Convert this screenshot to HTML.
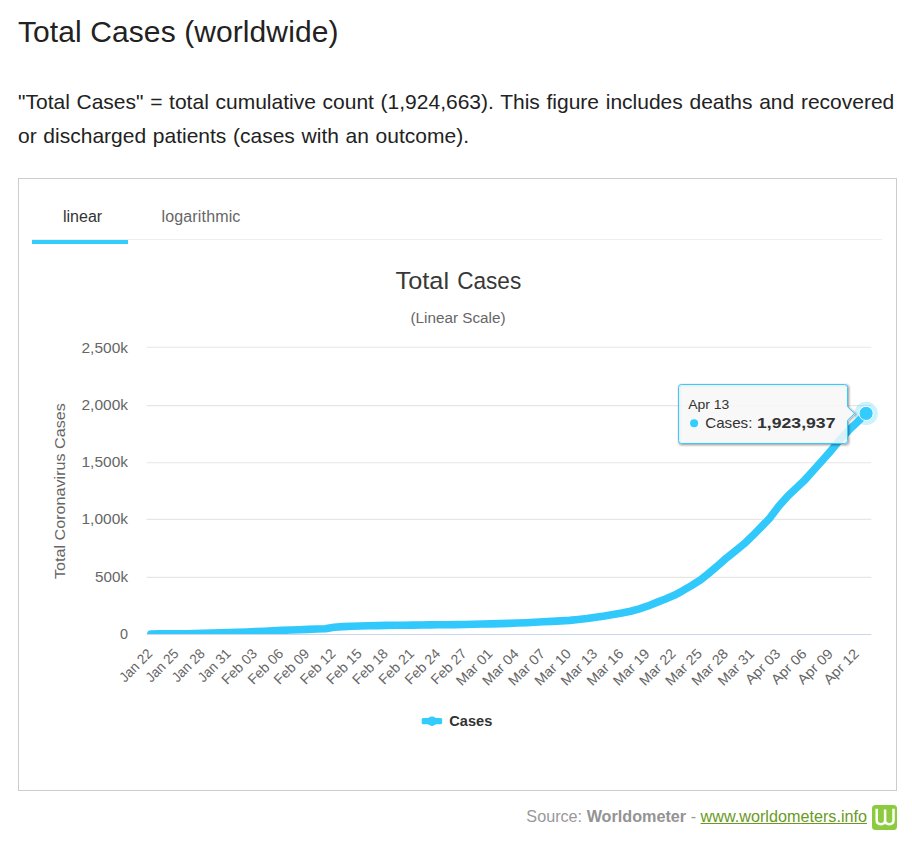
<!DOCTYPE html>
<html><head><meta charset="utf-8"><title>Total Cases</title>
<style>
html,body{margin:0;padding:0;background:#fff;}
body{width:912px;height:843px;position:relative;overflow:hidden;font-family:"Liberation Sans",sans-serif;color:#222;}
h3{position:absolute;left:18px;top:13px;margin:0;font-size:30px;font-weight:normal;line-height:38px;color:#222;white-space:nowrap;letter-spacing:0.09px;}
p.desc{position:absolute;left:18px;top:85px;margin:0;font-size:21px;line-height:33.6px;color:#222;white-space:nowrap;word-spacing:0.85px;}
.box{position:absolute;left:18px;top:178px;width:877px;height:611px;border:1px solid #ccc;background:#fff;}
.tabs{position:absolute;left:13px;top:0;width:850px;height:60px;border-bottom:1px solid #eee;}
.tab{position:absolute;top:29px;font-size:16px;line-height:18px;color:#666;}
.tab.act{color:#333;}
.ul{position:absolute;left:0;top:61px;width:96px;height:4px;background:#33ccff;}
.src{position:absolute;right:45px;top:806px;font-size:16.2px;line-height:20px;color:#999;white-space:nowrap;}
.src b{color:#939393;}
.src a{color:#6a9a1f;text-decoration:underline;}
svg text{font-family:"Liberation Sans",sans-serif;}
</style></head><body>
<h3>Total Cases (worldwide)</h3>
<p class="desc">"Total Cases" = total cumulative count (1,924,663). This figure includes deaths and recovered<br>or discharged patients (cases with an outcome).</p>
<div class="box">
 <div class="tabs">
  <span class="tab act" style="left:31px">linear</span>
  <span class="tab" style="left:129.5px;letter-spacing:0.15px">logarithmic</span>
  <div class="ul"></div>
 </div>
</div>
<svg width="912" height="843" style="position:absolute;left:0;top:0">
 <defs>
  <filter id="sh" x="-10%" y="-10%" width="130%" height="140%"><feGaussianBlur in="SourceAlpha" stdDeviation="1.5"/><feOffset dx="1" dy="1.5"/><feComponentTransfer><feFuncA type="linear" slope="0.35"/></feComponentTransfer><feMerge><feMergeNode/><feMergeNode in="SourceGraphic"/></feMerge></filter>
  <clipPath id="plot"><rect x="146" y="340" width="726" height="294"/></clipPath>
 </defs>
 <text x="395.6" y="288.6" font-size="24.5" text-anchor="start" fill="#383838" textLength="53.5" lengthAdjust="spacingAndGlyphs">Total</text>
 <text x="457.2" y="288.6" font-size="24.5" text-anchor="start" fill="#383838" textLength="64" lengthAdjust="spacingAndGlyphs">Cases</text>
 <text x="458" y="323.4" font-size="14" text-anchor="middle" fill="#666" textLength="95" lengthAdjust="spacingAndGlyphs">(Linear Scale)</text>
 <path d="M146.6 347.3 L871.3 347.3" stroke="#e6e6e6" stroke-width="1.1"/>
<path d="M146.6 405.6 L871.3 405.6" stroke="#e6e6e6" stroke-width="1.1"/>
<path d="M146.6 462.7 L871.3 462.7" stroke="#e6e6e6" stroke-width="1.1"/>
<path d="M146.6 519.4 L871.3 519.4" stroke="#e6e6e6" stroke-width="1.1"/>
<path d="M146.6 577.4 L871.3 577.4" stroke="#e6e6e6" stroke-width="1.1"/>
 <path d="M146.6 634.5 L871.3 634.5" stroke="#ccd6eb" stroke-width="1"/>
 <text x="128" y="352.6" font-size="14" text-anchor="end" fill="#666" textLength="46.5" lengthAdjust="spacingAndGlyphs">2,500k</text>
<text x="128" y="410.2" font-size="14" text-anchor="end" fill="#666" textLength="46.5" lengthAdjust="spacingAndGlyphs">2,000k</text>
<text x="128" y="467.3" font-size="14" text-anchor="end" fill="#666" textLength="46.5" lengthAdjust="spacingAndGlyphs">1,500k</text>
<text x="128" y="524.0" font-size="14" text-anchor="end" fill="#666" textLength="46.5" lengthAdjust="spacingAndGlyphs">1,000k</text>
<text x="128" y="582.0" font-size="14" text-anchor="end" fill="#666" textLength="33" lengthAdjust="spacingAndGlyphs">500k</text>
<text x="128" y="639.1" font-size="14" text-anchor="end" fill="#666" textLength="8" lengthAdjust="spacingAndGlyphs">0</text>
 <text x="65.4" y="491.1" transform="rotate(-90 65.4 491.1)" text-anchor="middle" font-size="15.5" fill="#666" textLength="176" lengthAdjust="spacingAndGlyphs">Total Coronavirus Cases</text>
 <g font-size="14" fill="#666">
 <text x="153.36" y="654.6" transform="rotate(-45 153.36 654.6)" text-anchor="end" textLength="40" lengthAdjust="spacingAndGlyphs">Jan 22</text>
<text x="179.53" y="654.6" transform="rotate(-45 179.53 654.6)" text-anchor="end" textLength="40" lengthAdjust="spacingAndGlyphs">Jan 25</text>
<text x="205.70" y="654.6" transform="rotate(-45 205.70 654.6)" text-anchor="end" textLength="40" lengthAdjust="spacingAndGlyphs">Jan 28</text>
<text x="231.87" y="654.6" transform="rotate(-45 231.87 654.6)" text-anchor="end" textLength="40" lengthAdjust="spacingAndGlyphs">Jan 31</text>
<text x="258.04" y="654.6" transform="rotate(-45 258.04 654.6)" text-anchor="end" textLength="43.5" lengthAdjust="spacingAndGlyphs">Feb 03</text>
<text x="284.20" y="654.6" transform="rotate(-45 284.20 654.6)" text-anchor="end" textLength="43.5" lengthAdjust="spacingAndGlyphs">Feb 06</text>
<text x="310.37" y="654.6" transform="rotate(-45 310.37 654.6)" text-anchor="end" textLength="43.5" lengthAdjust="spacingAndGlyphs">Feb 09</text>
<text x="336.54" y="654.6" transform="rotate(-45 336.54 654.6)" text-anchor="end" textLength="43.5" lengthAdjust="spacingAndGlyphs">Feb 12</text>
<text x="362.71" y="654.6" transform="rotate(-45 362.71 654.6)" text-anchor="end" textLength="43.5" lengthAdjust="spacingAndGlyphs">Feb 15</text>
<text x="388.88" y="654.6" transform="rotate(-45 388.88 654.6)" text-anchor="end" textLength="43.5" lengthAdjust="spacingAndGlyphs">Feb 18</text>
<text x="415.05" y="654.6" transform="rotate(-45 415.05 654.6)" text-anchor="end" textLength="43.5" lengthAdjust="spacingAndGlyphs">Feb 21</text>
<text x="441.22" y="654.6" transform="rotate(-45 441.22 654.6)" text-anchor="end" textLength="43.5" lengthAdjust="spacingAndGlyphs">Feb 24</text>
<text x="467.39" y="654.6" transform="rotate(-45 467.39 654.6)" text-anchor="end" textLength="43.5" lengthAdjust="spacingAndGlyphs">Feb 27</text>
<text x="493.55" y="654.6" transform="rotate(-45 493.55 654.6)" text-anchor="end" textLength="45" lengthAdjust="spacingAndGlyphs">Mar 01</text>
<text x="519.72" y="654.6" transform="rotate(-45 519.72 654.6)" text-anchor="end" textLength="45" lengthAdjust="spacingAndGlyphs">Mar 04</text>
<text x="545.89" y="654.6" transform="rotate(-45 545.89 654.6)" text-anchor="end" textLength="45" lengthAdjust="spacingAndGlyphs">Mar 07</text>
<text x="572.06" y="654.6" transform="rotate(-45 572.06 654.6)" text-anchor="end" textLength="45" lengthAdjust="spacingAndGlyphs">Mar 10</text>
<text x="598.23" y="654.6" transform="rotate(-45 598.23 654.6)" text-anchor="end" textLength="45" lengthAdjust="spacingAndGlyphs">Mar 13</text>
<text x="624.40" y="654.6" transform="rotate(-45 624.40 654.6)" text-anchor="end" textLength="45" lengthAdjust="spacingAndGlyphs">Mar 16</text>
<text x="650.57" y="654.6" transform="rotate(-45 650.57 654.6)" text-anchor="end" textLength="45" lengthAdjust="spacingAndGlyphs">Mar 19</text>
<text x="676.73" y="654.6" transform="rotate(-45 676.73 654.6)" text-anchor="end" textLength="45" lengthAdjust="spacingAndGlyphs">Mar 22</text>
<text x="702.90" y="654.6" transform="rotate(-45 702.90 654.6)" text-anchor="end" textLength="45" lengthAdjust="spacingAndGlyphs">Mar 25</text>
<text x="729.07" y="654.6" transform="rotate(-45 729.07 654.6)" text-anchor="end" textLength="45" lengthAdjust="spacingAndGlyphs">Mar 28</text>
<text x="755.24" y="654.6" transform="rotate(-45 755.24 654.6)" text-anchor="end" textLength="45" lengthAdjust="spacingAndGlyphs">Mar 31</text>
<text x="781.41" y="654.6" transform="rotate(-45 781.41 654.6)" text-anchor="end" textLength="43.5" lengthAdjust="spacingAndGlyphs">Apr 03</text>
<text x="807.58" y="654.6" transform="rotate(-45 807.58 654.6)" text-anchor="end" textLength="43.5" lengthAdjust="spacingAndGlyphs">Apr 06</text>
<text x="833.75" y="654.6" transform="rotate(-45 833.75 654.6)" text-anchor="end" textLength="43.5" lengthAdjust="spacingAndGlyphs">Apr 09</text>
<text x="859.92" y="654.6" transform="rotate(-45 859.92 654.6)" text-anchor="end" textLength="43.5" lengthAdjust="spacingAndGlyphs">Apr 12</text>
 </g>
 <g clip-path="url(#plot)">
 <path d="M150.86 633.93 L159.58 633.90 L168.31 633.85 L177.03 633.77 L185.75 633.68 L194.48 633.47 L203.20 633.31 L211.92 633.10 L220.64 632.87 L229.37 632.63 L238.09 632.33 L246.81 632.01 L255.54 631.63 L264.26 631.19 L272.98 630.76 L281.70 630.39 L290.43 630.00 L299.15 629.69 L307.87 629.35 L316.60 629.06 L325.32 628.82 L334.04 627.20 L342.77 626.61 L351.49 626.30 L360.21 626.06 L368.93 625.82 L377.66 625.59 L386.38 625.38 L395.10 625.32 L403.83 625.21 L412.55 625.09 L421.27 624.98 L429.99 624.92 L438.72 624.82 L447.44 624.73 L456.16 624.62 L464.89 624.47 L473.61 624.30 L482.33 624.07 L491.05 623.84 L499.78 623.63 L508.50 623.33 L517.22 623.07 L525.95 622.71 L534.67 622.30 L543.39 621.83 L552.11 621.39 L560.84 620.88 L569.56 620.36 L578.28 619.53 L587.01 618.57 L595.73 617.32 L604.45 616.04 L613.17 614.55 L621.90 613.07 L630.62 611.27 L639.34 608.91 L648.07 605.91 L656.79 602.39 L665.51 599.02 L674.23 595.30 L682.96 590.56 L691.68 585.54 L700.40 579.98 L709.13 573.01 L717.85 565.61 L726.57 557.95 L735.30 551.04 L744.02 543.89 L752.74 535.57 L761.46 526.75 L770.19 517.59 L778.91 505.94 L787.63 496.21 L796.36 488.03 L805.08 479.64 L813.80 469.95 L822.52 460.18 L831.25 450.40 L839.97 439.54 L848.69 430.31 L857.42 422.01 L866.14 413.36" fill="none" stroke="#31c8fc" stroke-width="7.6" stroke-linejoin="round" stroke-linecap="round"/>
 </g>
 <!-- legend -->
 <rect x="421.7" y="718.1" width="20.4" height="6.2" rx="1.5" fill="#33ccff"/>
 <circle cx="432" cy="721.2" r="4.8" fill="#33ccff"/>
 <text x="449.3" y="726.2" font-size="15" text-anchor="start" fill="#333" textLength="43" lengthAdjust="spacingAndGlyphs" font-weight="bold">Cases</text>
 <!-- halo + point -->
 <circle cx="866.1" cy="413.4" r="11.7" fill="#33ccff" fill-opacity="0.25"/>
 <circle cx="866.1" cy="413.4" r="7.1" fill="#33ccff" stroke="#fff" stroke-width="1"/>
 <!-- tooltip -->
 <g fill="none" stroke="#000" stroke-linejoin="round" transform="translate(1,1)">
  <path d="M681.5 384.5 L844.5 384.5 Q847.5 384.5 847.5 387.5 L847.5 406.7 L854.5 413.4 L847.5 420.3 L847.5 440.5 Q847.5 443.5 844.5 443.5 L681.5 443.5 Q678.5 443.5 678.5 440.5 L678.5 387.5 Q678.5 384.5 681.5 384.5 Z" stroke-opacity="0.05" stroke-width="5"/>
  <path d="M681.5 384.5 L844.5 384.5 Q847.5 384.5 847.5 387.5 L847.5 406.7 L854.5 413.4 L847.5 420.3 L847.5 440.5 Q847.5 443.5 844.5 443.5 L681.5 443.5 Q678.5 443.5 678.5 440.5 L678.5 387.5 Q678.5 384.5 681.5 384.5 Z" stroke-opacity="0.10" stroke-width="3"/>
  <path d="M681.5 384.5 L844.5 384.5 Q847.5 384.5 847.5 387.5 L847.5 406.7 L854.5 413.4 L847.5 420.3 L847.5 440.5 Q847.5 443.5 844.5 443.5 L681.5 443.5 Q678.5 443.5 678.5 440.5 L678.5 387.5 Q678.5 384.5 681.5 384.5 Z" stroke-opacity="0.15" stroke-width="1"/>
 </g>
 <path d="M681.5 384.5 L844.5 384.5 Q847.5 384.5 847.5 387.5 L847.5 406.7 L854.5 413.4 L847.5 420.3 L847.5 440.5 Q847.5 443.5 844.5 443.5 L681.5 443.5 Q678.5 443.5 678.5 440.5 L678.5 387.5 Q678.5 384.5 681.5 384.5 Z" fill="#f7f7f7" fill-opacity="0.85" stroke="#33ccff" stroke-width="1"/>
 <text x="688.2" y="408.6" font-size="12.3" text-anchor="start" fill="#333" textLength="41.2" lengthAdjust="spacingAndGlyphs">Apr 13</text>
 <circle cx="694.1" cy="423.2" r="4" fill="#33ccff"/>
 <text x="705.2" y="427.8" font-size="14.6" text-anchor="start" fill="#333" textLength="47.2" lengthAdjust="spacingAndGlyphs">Cases:</text>
 <text x="757" y="427.8" font-size="14.6" text-anchor="start" fill="#333" textLength="78.5" lengthAdjust="spacingAndGlyphs" font-weight="bold">1,923,937</text>
</svg>
<div class="src">Source: <b>Worldometer</b> - <a>www.worldometers.info</a></div>
<svg width="25" height="25" viewBox="0 0 25 25" style="position:absolute;left:872px;top:805px">
 <rect x="0" y="0" width="25" height="25" rx="3.5" fill="#8ccb3e"/>
 <path d="M4.7 3.8 V15.3 Q4.7 19.2 8.9 19.2 Q13.1 19.2 13.1 15.3 Q13.1 19.2 17.3 19.2 Q21.5 19.2 21.5 15.3 V3.8 M13.1 4.4 V15.3" fill="none" stroke="#fff" stroke-width="2.5" stroke-linecap="butt"/>
</svg>
</body></html>
